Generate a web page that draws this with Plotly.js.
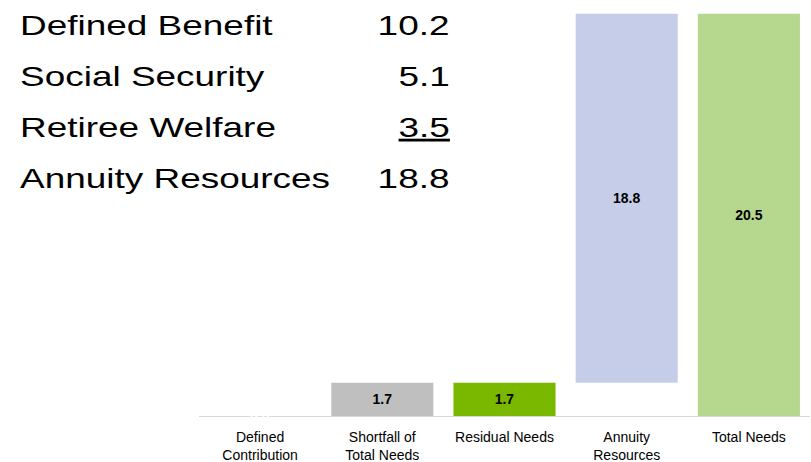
<!DOCTYPE html>
<html>
<head>
<meta charset="utf-8">
<script src="https://cdn.plot.ly/plotly-3.0.1.min.js"></script>
<style>html,body{margin:0;padding:0;background:#fff;}#chart{width:811px;height:462px;}</style>
</head>
<body>
<div id="chart"></div>
<script>
const categories = ["Defined<br>Contribution", "Shortfall of<br>Total Needs", "Residual Needs", "Annuity<br>Resources", "Total Needs"];
const barValues = [0.0, 1.7, 1.7, 18.8, 20.5];
const barBases = [0, 0, 0, 1.7, 0];
const barColors = ["#ffffff", "#bfbfbf", "#7ab800", "#c5cde8", "#b5d78e"];
const barLabels = ["0.0", "1.7", "1.7", "18.8", "20.5"];

const sideNames = ["Defined Benefit", "Social Security", "Retiree Welfare", "Annuity Resources"];
const sideValues = ["10.2", "5.1", "3.5", "18.8"];

const FONT = "Liberation Sans, Arial, sans-serif";
const L = 199, W = 611, H = 416;
const px2x = p => (p - L) / W;
const py2y = p => 1 - p / H;

const trace = {
  type: "bar",
  x: categories,
  y: barValues,
  base: barBases,
  marker: {color: barColors, line: {width: 0}},
  text: barLabels.map((t, i) => i === 0 ? "" : t),
  textposition: "inside",
  insidetextanchor: "middle",
  textangle: 0,
  constraintext: "none",
  textfont: {family: FONT, size: 14, color: "#000", weight: "bold"},
  hoverinfo: "none",
  showlegend: false
};

const annotations = [];
const stretch = [];
const lineY = [25, 76, 127, 178];
sideNames.forEach((n, i) => {
  stretch.push({idx: annotations.length, origin: "left"});
  annotations.push({xref: "paper", yref: "paper", x: px2x(18), y: py2y(lineY[i]), xanchor: "left", yanchor: "middle",
    text: n, showarrow: false, font: {family: FONT, size: 28, color: "#000"}});
  stretch.push({idx: annotations.length, origin: "right"});
  annotations.push({xref: "paper", yref: "paper", x: px2x(452), y: py2y(lineY[i]), xanchor: "right", yanchor: "middle",
    text: i === 2 ? "<u>" + sideValues[i] + "</u>" : sideValues[i], showarrow: false,
    font: {family: FONT, size: 28, color: "#000"}});
});
annotations.push({x: categories[0], y: barValues[0], xref: "x", yref: "y", text: "<b>" + barLabels[0] + "</b>", showarrow: false,
  yanchor: "middle", font: {family: FONT, size: 14, color: "#ffffff"}});

const layout = {
  width: 811, height: 462,
  margin: {l: L, r: 1, t: 0, b: 46, pad: 0},
  paper_bgcolor: "#fff", plot_bgcolor: "#fff",
  bargap: 0.165,
  xaxis: {
    type: "category",
    showline: true, linecolor: "#d9d9d9", linewidth: 1,
    showgrid: false, zeroline: false,
    ticks: "outside", ticklen: 8, tickcolor: "rgba(0,0,0,0)",
    tickfont: {family: FONT, size: 14, color: "#000"},
    tickangle: 0
  },
  yaxis: {range: [0, 21.2], visible: false, showgrid: false, zeroline: false},
  annotations: annotations,
  font: {family: FONT}
};

Plotly.newPlot("chart", [trace], layout, {displayModeBar: false, staticPlot: true}).then(gd => {
  stretch.forEach(s => {
    const t = gd.querySelector('g.annotation[data-index="' + s.idx + '"] text.annotation-text');
    if (t) {
      t.style.transformBox = "fill-box";
      t.style.transformOrigin = s.origin + " center";
      t.style.transform = "scaleX(1.32)";
    }
  });
});
</script>
</body>
</html>
